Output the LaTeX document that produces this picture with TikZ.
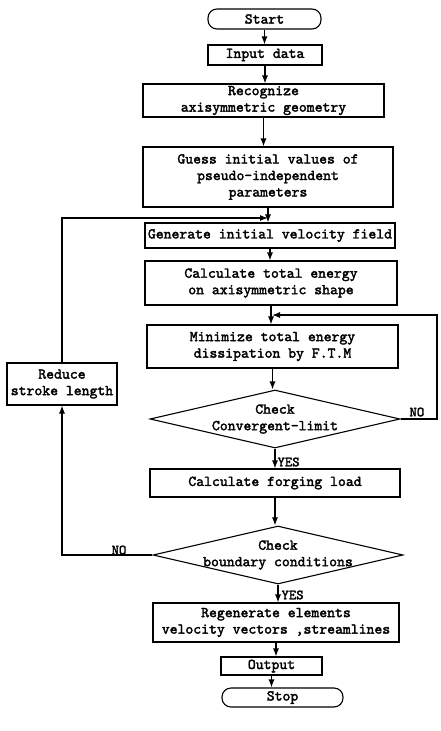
\documentclass[tikz,border=0pt]{standalone}
\usepackage{fontspec}
\usepackage{tikz}
\usetikzlibrary{arrows.meta,shapes.geometric}

\newfontfamily\flowfont{lmmono10-regular.otf}[FakeBold=2.2]

\tikzset{
  procbox/.style={draw,rectangle,line width=1.1pt,inner sep=1pt,align=center,
    font=\fontsize{15}{16.5}\selectfont\flowfont},
  termbox/.style={procbox,rounded corners=9pt},
  testbox/.style={draw,diamond,line width=1.1pt,inner sep=0pt,aspect=4.3},
  flowtxt/.style={font=\fontsize{15}{16.5}\selectfont\flowfont,align=center,inner sep=0pt},
  flowlbl/.style={font=\fontsize{14}{14}\selectfont\flowfont,inner sep=1pt}
}

\begin{document}
\begin{tikzpicture}[>={Latex[length=8pt,width=6pt]},x=1pt,y=-1pt,line width=1.1pt]

\useasboundingbox (0,0) rectangle (440,731);

% BOXES

% Start / input.
\node[termbox,minimum width=113pt,minimum height=20pt] (start) at (264.5,19) {Start};
\node[procbox,minimum width=114pt,minimum height=20pt] (input) at (265,55) {Input data};

% Geometry and first guess.
\node[procbox,minimum width=241pt,minimum height=33pt] (recog) at (263.5,100.5)
  {Recognize\\axisymmetric geometry};
\node[procbox,minimum width=250pt,minimum height=60pt] (guess) at (268,177)
  {Guess initial values of\\pseudo–independent\\parameters};

% Velocity field and energy.
\node[procbox,minimum width=250pt,minimum height=25pt] (genvel) at (270,235.5)
  {Generate initial velocity field};
\node[procbox,minimum width=252pt,minimum height=44pt] (energy) at (271,283)
  {Calculate total energy\\on axisymmetric shape};
\node[procbox,minimum width=251pt,minimum height=43pt] (minim) at (272.5,346.5)
  {Minimize total energy\\dissipation by F.T.M};

% Convergence test.
\node[testbox,minimum width=250pt,minimum height=58pt] (conv) at (275,419) {};
\node[flowtxt] (convtxt) at (conv) {Check\\Convergent–limit};

% Forging load.
\node[procbox,minimum width=250pt,minimum height=28pt] (load) at (275,483)
  {Calculate forging load};

% Boundary test.
\node[testbox,minimum width=250pt,minimum height=58pt] (bound) at (278,555) {};
\node[flowtxt] (boundtxt) at (bound) {Check\\boundary conditions};

% Results.
\node[procbox,minimum width=246pt,minimum height=39pt] (regen) at (276,622.5)
  {Regenerate elements\\velocity vectors ,streamlines};
\node[procbox,minimum width=101pt,minimum height=18pt] (output) at (271.5,666) {Output};
\node[termbox,minimum width=121pt,minimum height=19pt] (stop) at (282.5,697.5) {Stop};

% Stroke reduction.
\node[procbox,minimum width=110pt,minimum height=42pt] (reduce) at (62,384)
  {Reduce\\stroke length};

% CONNECTIONS

% Main column.
\draw[->] (start.south) -- (start.south |- input.north);
\draw[->] (input.south) -- (input.south |- recog.north);
\draw[->] (recog.south) -- (recog.south |- guess.north);
\draw[->] (guess.south) -- (guess.south |- genvel.north);
\draw[->] (genvel.south) -- (genvel.south |- energy.north);
\draw[->] (energy.south) -- (energy.south |- minim.north);
\draw[->] (minim.south) -- (minim.south |- conv.north);
\draw[->] (conv.south) -- (conv.south |- load.north);
\draw[->] (load.south) -- (load.south |- bound.north);
\draw[->] (bound.south) -- (bound.south |- regen.north);
\draw[->] (regen.south) -- (regen.south |- output.north);
\draw[->] (output.south) -- (output.south |- stop.north);

% Not converged -> minimize again.
\coordinate (convR) at (437,419);
\coordinate (convJ) at (272,315);
\draw[->] (conv.east) -- (convR) |- (convJ);

% Boundary failed -> reduce stroke.
\draw[->] (bound.west) -| (reduce.south);

% Reduce stroke -> new velocity field.
\coordinate (genJ) at (268,218);
\draw[->] (reduce.north) |- (genJ);

% LABELS

\node[flowlbl,anchor=south west] (noconv) at (408,418) {NO};
\node[flowlbl,anchor=west] (yesconv) at (276,462) {YES};
\node[flowlbl,anchor=south] (nobound) at (119,556) {NO};
\node[flowlbl,anchor=west] (yesbound) at (280,595) {YES};

\end{tikzpicture}
\end{document}
